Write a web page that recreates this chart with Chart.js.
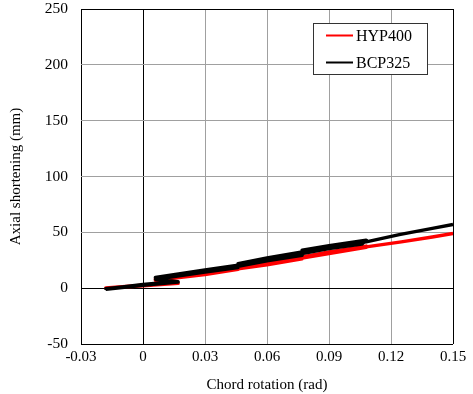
<!DOCTYPE html>
<html>
<head>
<meta charset="utf-8">
<script src="https://cdn.jsdelivr.net/npm/chart.js@4.4.1/dist/chart.umd.min.js"></script>
<style>
  html, body { margin: 0; padding: 0; background: #fff; }
  #wrap { width: 473px; height: 394px; position: relative; }
</style>
</head>
<body>
<div id="wrap"><canvas id="c"></canvas></div>
<script>
/* 弦回転角-軸縮み関係(繰返し載荷の履歴) */

const X_TICKS = [-0.03, 0, 0.03, 0.06, 0.09, 0.12, 0.15];
const Y_TICKS = [-50, 0, 50, 100, 150, 200, 250];

// HYP400: [回転角 rad, 軸縮み mm]
const HYP400 = [
  [-0.018, 0], [0, 2.2], [0.017, 4.4], [0.008, 3.6], [0, 2.7], [-0.010, 1.3], [-0.018, 0.3], [0, 2.3], [0.017, 4.3],
  [0.006, 7], [0.030, 12.2], [0.046, 16.8], [0.046, 18], [0.030, 13.5], [0.006, 8.2], [0.030, 12.8], [0.046, 17.4],
  [0.060, 21], [0.077, 26.3], [0.077, 27.5], [0.060, 22.5], [0.046, 18.6], [0.060, 21.8], [0.077, 26.9],
  [0.090, 31], [0.108, 36.5], [0.108, 37.7], [0.090, 32.5], [0.077, 28], [0.090, 31.7], [0.108, 37],
  [0.125, 41.5], [0.140, 45.8], [0.150, 49],
];

// BCP325
const BCP325 = [
  [-0.018, -1], [0, 2.5], [0.017, 5.4], [0.008, 4.6], [0, 3.4], [-0.010, 1.2], [-0.018, -0.4], [0, 3], [0.017, 5.8],
  [0.006, 8], [0.030, 14.5], [0.046, 18.5], [0.046, 20.5], [0.030, 16.3], [0.006, 9.6], [0.030, 15.3], [0.046, 19.5],
  [0.060, 24.5], [0.077, 29.5], [0.077, 32.5], [0.060, 27], [0.046, 22], [0.060, 25.7], [0.077, 31],
  [0.090, 35.5], [0.106, 39.5], [0.108, 43], [0.090, 38], [0.077, 34], [0.090, 37], [0.108, 41.5],
  [0.124, 48], [0.140, 53.5], [0.150, 57],
];

const SERIES = [
  { label: "HYP400", color: "#ff0000", pts: HYP400, order: 1 },
  { label: "BCP325", color: "#000000", pts: BCP325, order: 0 },
];

const FONT = "'Liberation Serif', 'Times New Roman', serif";

const gridColor = (v, lo, hi) => (v === 0 || v === lo || v === hi ? "#000" : "#a0a0a0");

// 図中の凡例(枠付き)
const legendBox = {
  id: "legendBox",
  afterDraw(chart) {
    const ctx = chart.ctx;
    const x0 = 313, y0 = 23, w = 114, h = 51;
    ctx.save();
    ctx.fillStyle = "#fff";
    ctx.fillRect(x0, y0, w, h);
    ctx.strokeStyle = "#333";
    ctx.lineWidth = 1;
    ctx.strokeRect(x0 + 0.5, y0 + 0.5, w, h);
    ctx.font = `16px ${FONT}`;
    ctx.textBaseline = "middle";
    SERIES.forEach((s, i) => {
      const y = y0 + 12.5 + i * 27;
      ctx.strokeStyle = s.color;
      ctx.lineWidth = 2;
      ctx.beginPath();
      ctx.moveTo(326, y);
      ctx.lineTo(353, y);
      ctx.stroke();
      ctx.fillStyle = "#000";
      ctx.fillText(s.label, 356, y + 1);
    });
    ctx.restore();
  },
};

new Chart(document.getElementById("c"), {
  type: "scatter",
  data: {
    datasets: SERIES.map((s) => ({
      label: s.label,
      data: s.pts.map(([x, y]) => ({ x, y })),
      showLine: true,
      borderColor: s.color,
      backgroundColor: s.color,
      borderWidth: 3.4,
      borderJoinStyle: "round",
      pointRadius: 0,
      tension: 0,
      order: s.order,
    })),
  },
  options: {
    responsive: true,
    maintainAspectRatio: false,
    animation: false,
    layout: { padding: { top: 9, right: 20, bottom: 0, left: 0 } },
    plugins: { legend: { display: false }, tooltip: { enabled: false } },
    scales: {
      x: {
        type: "linear",
        min: -0.03,
        max: 0.15,
        afterBuildTicks: (sc) => { sc.ticks = X_TICKS.map((v) => ({ value: v })); },
        afterFit: (sc) => { sc.height = 50; sc.paddingLeft = 0; sc.paddingRight = 0; },
        ticks: {
          color: "#000",
          font: { family: FONT, size: 15 },
          padding: 4,
          maxRotation: 0,
          callback: (v) => String(v),
        },
        grid: { color: (c) => gridColor(c.tick.value, -0.03, 0.15), drawTicks: false, lineWidth: 1 },
        border: { display: false },
        title: { display: true, text: "Chord rotation (rad)", color: "#000", font: { family: FONT, size: 15 }, padding: { top: 2, bottom: 0 } },
      },
      y: {
        type: "linear",
        min: -50,
        max: 250,
        afterBuildTicks: (sc) => { sc.ticks = Y_TICKS.map((v) => ({ value: v })); },
        afterFit: (sc) => { sc.width = 81; sc.paddingTop = 0; sc.paddingBottom = 0; },
        ticks: {
          color: "#000",
          font: { family: FONT, size: 15.5 },
          padding: 13,
        },
        grid: { color: (c) => gridColor(c.tick.value, -50, 250), drawTicks: false, lineWidth: 1 },
        border: { display: false },
        title: { display: true, text: "Axial shortening (mm)", color: "#000", font: { family: FONT, size: 15 }, padding: { top: 7, bottom: 0 } },
      },
    },
  },
  plugins: [legendBox],
});
</script>
</body>
</html>
